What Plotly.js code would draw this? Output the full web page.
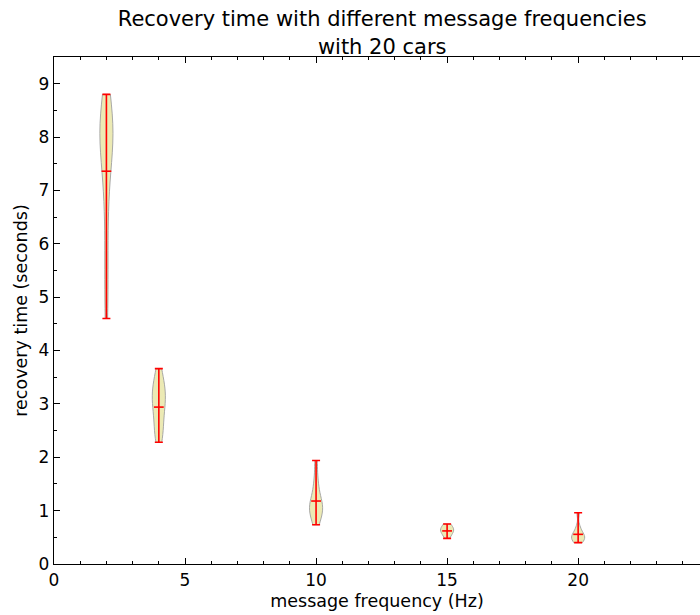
<!DOCTYPE html>
<html>
<head>
<meta charset="utf-8">
<script src="https://cdn.plot.ly/plotly-3.0.1.min.js"></script>
<style>html,body{margin:0;padding:0;background:#fff;}#chart{width:700px;height:615px;}</style>
</head>
<body>
<div id="chart"></div>
<script>
// Message frequencies (Hz)
const frequencies = [2, 4, 10, 15, 20];
const samples2Hz  = [8.80, 8.60, 8.45, 8.30, 8.20, 8.10, 8.00, 7.90, 7.80, 7.60, 7.40, 7.00, 6.50, 5.80, 5.20, 4.60];
const samples4Hz  = [2.28, 2.38, 2.50, 2.62, 2.74, 2.85, 2.95, 3.03, 3.10, 3.17, 3.24, 3.31, 3.40, 3.52, 3.66];
const samples10Hz = [0.735, 0.85, 0.95, 1.00, 1.05, 1.10, 1.15, 1.25, 1.40, 1.60, 1.94];
const samples15Hz = [0.48, 0.55, 0.60, 0.62, 0.64, 0.67, 0.70, 0.75];
const samples20Hz = [0.40, 0.44, 0.47, 0.50, 0.52, 0.55, 0.60, 0.70, 0.96];
const sampleSets = [samples2Hz, samples4Hz, samples10Hz, samples15Hz, samples20Hz];
// Summary statistics shown in red
const minTimes  = [4.60, 2.28, 0.735, 0.48, 0.40];
const meanTimes = [7.36, 2.94, 1.18, 0.62, 0.556];
const maxTimes  = [8.80, 3.66, 1.94, 0.75, 0.96];
// Tick labels
const xTickVals = [0, 5, 10, 15, 20];
const yTickVals = [0, 1, 2, 3, 4, 5, 6, 7, 8, 9];
// Kernel bandwidths per violin (smoothing)
const bandwidths = [0.55, 0.22, 0.17, 0.07, 0.08];

const traces = sampleSets.map((s, i) => ({
  type: 'violin',
  x0: frequencies[i],
  y: s,
  width: 0.5,
  bandwidth: bandwidths[i],
  spanmode: 'hard',
  points: false,
  box: {visible: false},
  meanline: {visible: false},
  fillcolor: 'rgba(236,234,180,1)',
  line: {color: 'rgba(160,160,160,0.9)', width: 1},
  hoverinfo: 'skip',
  showlegend: false
}));

traces.push({
  type: 'scatter',
  mode: 'markers',
  x: frequencies,
  y: meanTimes,
  marker: {symbol: 'line-ew', size: 7, line: {color: 'red', width: 1.6}, color: 'red'},
  error_y: {
    type: 'data',
    symmetric: false,
    array: maxTimes.map((v, i) => v - meanTimes[i]),
    arrayminus: meanTimes.map((v, i) => v - minTimes[i]),
    color: 'red',
    thickness: 1.6,
    width: 4
  },
  showlegend: false,
  hoverinfo: 'skip'
});

const font = {family: 'DejaVu Sans, sans-serif', color: '#000'};

const layout = {
  width: 700,
  height: 615,
  paper_bgcolor: '#fff',
  plot_bgcolor: '#fff',
  margin: {l: 54, r: 0, t: 57, b: 51},
  font: Object.assign({size: 17}, font),
  title: {
    text: 'Recovery time with different message frequencies<br>with 20 cars',
    font: Object.assign({size: 21}, font),
    x: 0.546, xanchor: 'center', xref: 'container',
    y: 0.957, yanchor: 'top', yref: 'container'
  },
  xaxis: {
    range: [0, 24.65],
    tickvals: xTickVals,
    ticktext: xTickVals.map(String),
    ticks: 'inside', ticklen: 6, tickwidth: 1, tickcolor: '#000',
    minor: {dtick: 1, tick0: 0, ticks: 'inside', ticklen: 3, tickcolor: '#000', showgrid: false},
    showline: true, linecolor: '#000', linewidth: 1.2,
    mirror: 'ticks',
    showgrid: false, zeroline: false,
    tickfont: Object.assign({size: 17}, font),
    title: {text: 'message frequency (Hz)', font: Object.assign({size: 17.5}, font), standoff: 6}
  },
  yaxis: {
    range: [0, 9.5],
    tickvals: yTickVals,
    ticktext: yTickVals.map(String),
    ticks: 'inside', ticklen: 6, tickwidth: 1, tickcolor: '#000',
    minor: {dtick: 0.5, tick0: 0, ticks: 'inside', ticklen: 3, tickcolor: '#000', showgrid: false},
    showline: true, linecolor: '#000', linewidth: 1.2,
    showgrid: false, zeroline: false,
    tickfont: Object.assign({size: 17}, font),
    title: {text: 'recovery time (seconds)', font: Object.assign({size: 17.5}, font), standoff: 6}
  },
  violingap: 0,
  violinmode: 'overlay'
};

Plotly.newPlot('chart', traces, layout, {displayModeBar: false, staticPlot: true});
</script>
</body>
</html>
